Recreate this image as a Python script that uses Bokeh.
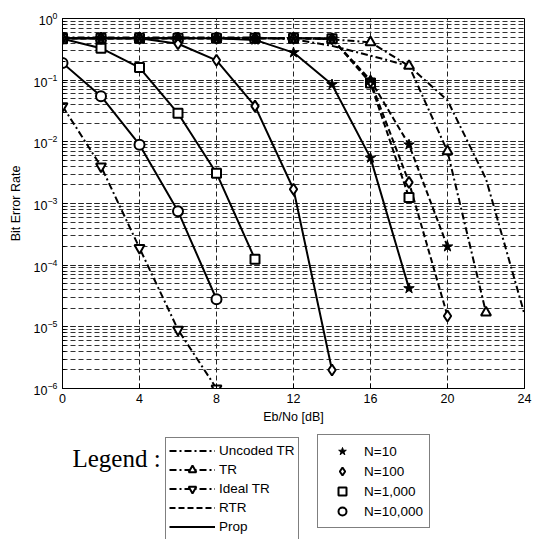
from bokeh.plotting import figure
from bokeh.layouts import column
from bokeh.models import Legend, LegendItem, Label, LogTicker, FixedTicker
from bokeh.embed import file_html
from bokeh.resources import INLINE

# ---------------- data ----------------
unc_x = [0, 2, 4, 6, 8, 10, 12, 14, 16, 18, 20, 22, 24]
unc_y = [0.49, 0.49, 0.49, 0.49, 0.49, 0.49, 0.46, 0.36, 0.25, 0.17, 0.047, 2.5e-3, 1.6e-5]

tr_x = [0, 2, 4, 6, 8, 10, 12, 14, 16, 18, 20, 22]
tr_y = [0.48, 0.48, 0.48, 0.48, 0.48, 0.48, 0.48, 0.46, 0.41, 0.17, 7e-3, 1.7e-5]

ideal_x = [0, 2, 4, 6, 8]
ideal_y = [0.038, 4e-3, 1.9e-4, 9e-6, 1e-6]

rtr10_x = [0, 2, 4, 6, 8, 10, 12, 14, 16, 18, 20]
rtr10_y = [0.48, 0.48, 0.48, 0.48, 0.48, 0.48, 0.48, 0.47, 0.1, 9e-3, 2e-4]
rtr100_x = [0, 2, 4, 6, 8, 10, 12, 14, 16, 18, 20]
rtr100_y = [0.48, 0.48, 0.48, 0.48, 0.48, 0.48, 0.48, 0.47, 0.095, 2.2e-3, 1.5e-5]
rtr1000_x = [0, 2, 4, 6, 8, 10, 12, 14, 16, 18]
rtr1000_y = [0.48, 0.48, 0.48, 0.48, 0.48, 0.48, 0.48, 0.47, 0.09, 1.25e-3]

prop10_x = [0, 2, 4, 6, 8, 10, 12, 14, 16, 18]
prop10_y = [0.48, 0.48, 0.48, 0.48, 0.48, 0.45, 0.28, 0.085, 5.5e-3, 4.2e-5]
prop100_x = [0, 2, 4, 6, 8, 10, 12, 14]
prop100_y = [0.48, 0.48, 0.48, 0.39, 0.21, 0.038, 1.7e-3, 2e-6]
prop1000_x = [0, 2, 4, 6, 8, 10]
prop1000_y = [0.47, 0.33, 0.16, 0.029, 3.1e-3, 1.25e-4]
prop10000_x = [0, 2, 4, 6, 8]
prop10000_y = [0.19, 0.055, 9e-3, 7.5e-4, 2.8e-5]

x_ticks = [0, 4, 8, 12, 16, 20, 24]

legend1_labels = ["Uncoded TR", "TR", "Ideal TR", "RTR", "Prop"]
legend2_labels = ["N=10", "N=100", "N=1,000", "N=10,000"]

FONT = "Liberation Sans"
DASHDOT = "7 3 2 3"
DASH = "6 3"
LW = 2


def draw_series(fig):
    """Draw every curve on fig; return renderers used by the legends."""
    def open_pts(x, y, marker, size):
        return fig.scatter(x, y, marker=marker, size=size, fill_color="white",
                           line_color="black", line_width=2)

    def filled_pts(x, y, size=11):
        return fig.scatter(x, y, marker="star", size=size, fill_color="black",
                           line_color="black", line_width=1)

    r = {}
    r["unc"] = fig.line(unc_x, unc_y, line_color="black", line_width=LW, line_dash=DASHDOT)
    r["tr"] = fig.line(tr_x, tr_y, line_color="black", line_width=LW, line_dash=DASHDOT)
    r["tr_p"] = open_pts(tr_x, tr_y, "triangle", 10)
    r["id"] = fig.line(ideal_x, ideal_y, line_color="black", line_width=LW, line_dash=DASHDOT)
    r["id_p"] = open_pts(ideal_x, ideal_y, "inverted_triangle", 10)

    r["rtr"] = fig.line(rtr10_x, rtr10_y, line_color="black", line_width=LW, line_dash=DASH)
    fig.line(rtr100_x, rtr100_y, line_color="black", line_width=LW, line_dash=DASH)
    fig.line(rtr1000_x, rtr1000_y, line_color="black", line_width=LW, line_dash=DASH)
    open_pts(rtr1000_x, rtr1000_y, "square", 9)
    open_pts(rtr100_x, rtr100_y, "diamond", 11)
    filled_pts(rtr10_x, rtr10_y)

    r["prop"] = fig.line(prop10_x, prop10_y, line_color="black", line_width=LW)
    fig.line(prop100_x, prop100_y, line_color="black", line_width=LW)
    fig.line(prop1000_x, prop1000_y, line_color="black", line_width=LW)
    fig.line(prop10000_x, prop10000_y, line_color="black", line_width=LW)
    r["c"] = open_pts(prop10000_x, prop10000_y, "circle", 10)
    r["s"] = open_pts(prop1000_x, prop1000_y, "square", 9)
    r["d"] = open_pts(prop100_x, prop100_y, "diamond", 11)
    r["f"] = filled_pts(prop10_x, prop10_y)
    return r


# ---------------- main chart ----------------
p = figure(width=540, height=430, x_range=(0, 24), y_range=(1e-6, 1),
           y_axis_type="log", output_backend="svg", toolbar_location=None,
           min_border_left=62, min_border_right=16, min_border_top=18,
           min_border_bottom=42)
p.background_fill_color = "white"
p.border_fill_color = "white"
p.outline_line_color = "black"
p.outline_line_width = 1

p.xaxis.ticker = FixedTicker(ticks=x_ticks)
p.yaxis.ticker = LogTicker(num_minor_ticks=10)
for ax in (p.xaxis, p.yaxis):
    ax.major_tick_in = 5
    ax.major_tick_out = 0
    ax.minor_tick_in = 3
    ax.minor_tick_out = 0
    ax.axis_line_color = "black"
    ax.major_label_text_font = FONT
    ax.major_label_text_font_size = "12.5px"
    ax.major_label_text_color = "black"
    ax.axis_label_text_font = FONT
    ax.axis_label_text_font_size = "12.5px"
    ax.axis_label_text_font_style = "normal"
    ax.axis_label_text_color = "black"
p.xaxis.axis_label = "Eb/No [dB]"
p.yaxis.axis_label = "Bit Error Rate"
p.xaxis.axis_label_standoff = 4
p.yaxis.axis_label_standoff = 8

p.xgrid.grid_line_color = "#222222"
p.xgrid.grid_line_dash = "5 3"
p.ygrid.grid_line_color = "#222222"
p.ygrid.grid_line_dash = "5 3"
p.ygrid.minor_grid_line_color = "#333333"
p.ygrid.minor_grid_line_dash = "5 3"

draw_series(p)

# ---------------- legend area (same series, out of view; only legends show) ----------------
q = figure(width=540, height=109, x_range=(1000, 1001), y_range=(1000, 1001),
           output_backend="svg", toolbar_location=None,
           x_axis_location=None, y_axis_location=None, min_border=0)
q.outline_line_color = None
q.grid.visible = False
q.background_fill_color = "white"
q.border_fill_color = "white"
lr = draw_series(q)


def style(leg, item_h, pad):
    leg.border_line_color = "black"
    leg.border_line_width = 1
    leg.background_fill_color = "white"
    leg.background_fill_alpha = 1
    leg.label_text_font = FONT
    leg.label_text_font_size = "13.5px"
    leg.label_text_color = "black"
    leg.glyph_height = item_h
    leg.label_height = item_h
    leg.spacing = 0
    leg.padding = pad
    leg.margin = 0
    leg.label_standoff = 4


leg1 = Legend(items=[
    LegendItem(label=legend1_labels[0], renderers=[lr["unc"]]),
    LegendItem(label=legend1_labels[1], renderers=[lr["tr"], lr["tr_p"]]),
    LegendItem(label=legend1_labels[2], renderers=[lr["id"], lr["id_p"]]),
    LegendItem(label=legend1_labels[3], renderers=[lr["rtr"]]),
    LegendItem(label=legend1_labels[4], renderers=[lr["prop"]]),
], location=(103, -1))
style(leg1, 19, 3)
leg1.glyph_width = 46
q.add_layout(leg1)

leg2 = Legend(items=[
    LegendItem(label=legend2_labels[0], renderers=[lr["f"]]),
    LegendItem(label=legend2_labels[1], renderers=[lr["d"]]),
    LegendItem(label=legend2_labels[2], renderers=[lr["s"]]),
    LegendItem(label=legend2_labels[3], renderers=[lr["c"]]),
], location=(255, 11))
style(leg2, 20, 6)
leg2.glyph_width = 36
q.add_layout(leg2)

q.add_layout(Label(x=10, y=81, x_units="screen", y_units="screen",
                   text="Legend :", text_font="Liberation Serif",
                   text_font_size="25px", text_color="black",
                   text_baseline="alphabetic"))

layout = column(p, q, spacing=0)
open("out.html", "w").write(file_html(layout, INLINE))
